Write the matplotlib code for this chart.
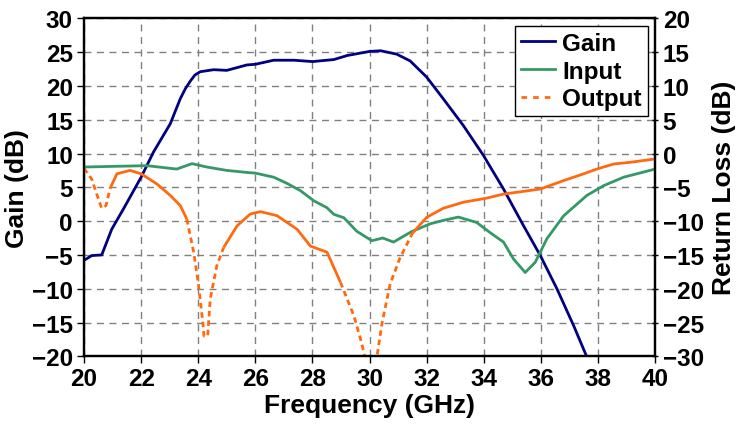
import matplotlib
matplotlib.use("Agg")
import matplotlib.pyplot as plt
import numpy as np

plt.rcParams["font.family"] = ["Liberation Sans", "DejaVu Sans"]
plt.rcParams["font.weight"] = "bold"

# Gain (левая ось, дБ)
gain_freq = [20.0, 20.27, 20.62, 20.97, 21.38, 22.0, 22.43, 23.02, 23.37, 23.55,
             23.72, 23.88, 24.07, 24.54, 25.0, 25.7, 26.0, 26.64, 27.35, 28.0,
             28.75, 29.22, 30.0, 30.39, 30.95, 31.42, 32.0, 32.58, 33.29, 33.99,
             34.69, 35.39, 35.98, 36.56, 37.15, 37.6, 37.9]
gain_db = [-5.8, -5.1, -5.0, -1.2, 1.8, 6.5, 10.2, 14.4, 18.1, 19.6,
           20.7, 21.6, 22.1, 22.4, 22.3, 23.1, 23.2, 23.8, 23.8, 23.6,
           23.9, 24.5, 25.1, 25.2, 24.7, 23.7, 21.3, 18.1, 14.1, 9.7,
           4.75, -0.67, -5.1, -10.0, -15.5, -20.0, -22.0]

# Input return loss (правая ось, дБ)
in_freq = [20.0, 21.03, 22.2, 23.25, 23.78, 24.3, 25.0, 25.7, 26.0, 26.64,
           27.1, 27.58, 28.05, 28.5, 28.75, 29.1, 29.55, 30.08, 30.46, 30.84,
           31.45, 32.12, 32.58, 33.11, 33.75, 34.22, 34.69, 35.04, 35.45, 35.8,
           36.21, 36.8, 37.61, 38.2, 38.9, 40.0]
in_rl = [-2.0, -1.9, -1.8, -2.3, -1.5, -2.0, -2.5, -2.8, -2.9, -3.5,
         -4.4, -5.5, -7.0, -8.0, -9.0, -9.5, -11.5, -12.9, -12.5, -13.1,
         -11.6, -10.4, -9.9, -9.4, -10.2, -11.7, -13.1, -15.6, -17.6, -16.1,
         -12.6, -9.2, -6.2, -4.75, -3.5, -2.3]

# Output return loss (правая ось, дБ)
out_freq = [20.0, 20.27, 20.5, 20.62, 20.77, 20.91, 21.15, 21.61, 22.0, 22.55,
            23.02, 23.37, 23.6, 23.84, 24.01, 24.16, 24.2, 24.33, 24.42, 24.65,
            24.89, 25.36, 25.82, 26.18, 26.76, 27.46, 27.93, 28.51, 28.98, 29.45,
            29.68, 29.86, 30.1, 30.27, 30.44, 30.72, 31.06, 31.5, 32.0, 32.58,
            33.29, 34.1, 34.69, 35.39, 35.98, 36.8, 37.5, 37.96, 38.55, 39.13,
            40.0]
out_rl = [-2.2, -3.8, -6.7, -8.1, -7.7, -5.2, -3.0, -2.5, -3.0, -4.5,
          -6.2, -7.7, -9.7, -14.6, -19.5, -25.0, -27.0, -27.0, -21.5, -16.6,
          -13.9, -10.7, -8.95, -8.6, -9.2, -11.2, -13.7, -14.6, -19.05, -24.0,
          -27.4, -30.4, -31.5, -29.7, -25.0, -19.3, -15.5, -11.8, -9.44, -8.1,
          -7.2, -6.6, -6.0, -5.6, -5.25, -4.0, -3.0, -2.3, -1.55, -1.3,
          -0.8]

# участки, где пунктир выглядит как пунктир (как у Excel на крутых склонах)
DASH_SPANS = [(20.0, 21.0), (23.6, 24.95), (29.0, 31.3)]

GAIN_COLOR = "#000080"
IN_COLOR = "#339966"
OUT_COLOR = "#ff6a10"


def plot_output(ax, freq, vals):
    f = np.asarray(freq)
    v = np.asarray(vals)
    mid = (f[:-1] + f[1:]) / 2
    dashed = np.array([any(lo <= m <= hi for lo, hi in DASH_SPANS) for m in mid])
    start = 0
    for i in range(1, len(mid) + 1):
        if i == len(mid) or dashed[i] != dashed[start]:
            ls = (0, (2.0, 1.4)) if dashed[start] else "-"
            ax.plot(f[start:i + 1], v[start:i + 1], color=OUT_COLOR, lw=2.0,
                    linestyle=ls, solid_capstyle="butt", dash_capstyle="butt")
            start = i


fig = plt.figure(figsize=(7.47, 4.35), dpi=100)
ax = fig.add_axes([0.1125, 0.1786, 0.7645, 0.777])
ax2 = ax.twinx()

ax.plot(gain_freq, gain_db, color=GAIN_COLOR, lw=2.0)
ax2.plot(in_freq, in_rl, color=IN_COLOR, lw=2.0)
plot_output(ax2, out_freq, out_rl)

ax.set_xlim(20, 40)
ax.set_ylim(-20, 30)
ax2.set_ylim(-30, 20)
ax.set_xticks(np.arange(20, 41, 2))
ax.set_yticks(np.arange(-20, 31, 5))
ax2.set_yticks(np.arange(-30, 21, 5))

ax.grid(True, color="#808080", linestyle=(0, (5, 4)), linewidth=1.0)
ax.set_axisbelow(True)

for a in (ax, ax2):
    for s in a.spines.values():
        s.set_linewidth(1.6)
ax.tick_params(axis="both", labelsize=17.5, width=1.0, length=5, direction="out", pad=3)
ax2.tick_params(axis="y", labelsize=17.5, width=1.0, length=5, direction="inout", pad=3)
for lab in ax.get_xticklabels() + ax.get_yticklabels() + ax2.get_yticklabels():
    lab.set_fontweight("bold")

ax.set_xlabel("Frequency (GHz)", fontsize=19, fontweight="bold", labelpad=2)
ax.set_ylabel("Gain (dB)", fontsize=19, fontweight="bold", labelpad=2)
ax2.set_ylabel("Return Loss (dB)", fontsize=19, fontweight="bold", labelpad=6)

handles = [
    plt.Line2D([], [], color=GAIN_COLOR, lw=2.0),
    plt.Line2D([], [], color=IN_COLOR, lw=2.0),
    plt.Line2D([], [], color=OUT_COLOR, lw=2.0, linestyle=(0, (2.0, 2.2))),
]
leg = ax2.legend(handles, ["Gain", "Input", "Output"], loc="upper right",
                 fontsize=17.5, frameon=True, fancybox=False, edgecolor="black",
                 framealpha=1, borderaxespad=0.3, handlelength=1.4,
                 handletextpad=0.3, labelspacing=0.2, borderpad=0.25)
leg.get_frame().set_linewidth(1.0)
for t in leg.get_texts():
    t.set_fontweight("bold")

fig.savefig("out.png", dpi=100)
